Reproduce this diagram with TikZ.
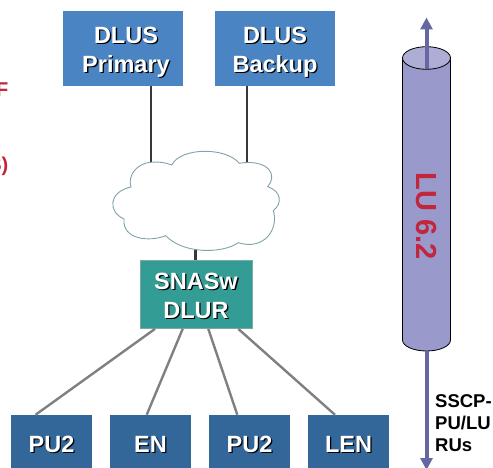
\documentclass[tikz,border=0pt]{standalone}
\usepackage{fontspec}
\setmainfont{Liberation Sans}
\usetikzlibrary{arrows.meta}
\definecolor{dlus}{HTML}{4A84C2}
\definecolor{sw}{HTML}{339C94}
\definecolor{pu}{HTML}{336699}
\definecolor{cyl}{HTML}{9999CC}
\definecolor{cyltop}{HTML}{ADADD6}
\definecolor{arr}{HTML}{6666A3}
\definecolor{redt}{HTML}{C0273D}
\definecolor{cloudc}{HTML}{7FA3A8}
\tikzset{
 x=1pt,y=-1pt,
 boxlabel/.style={font=\bfseries\fontsize{23.5}{28.8}\selectfont,align=center,text=white},
 boxshadow/.style={font=\bfseries\fontsize{23.5}{28.8}\selectfont,align=center,text=black},
 dlusbox/.style={fill=dlus,draw=none,minimum width=120pt,minimum height=75pt,inner sep=0pt},
 swbox/.style={fill=sw,draw=sw!70!black!60!white,line width=0.8pt,minimum width=112pt,minimum height=68pt,inner sep=0pt},
 pubox/.style={fill=pu,draw=none,minimum width=81pt,minimum height=53pt,inner sep=0pt},
 dark/.style={draw=black!78,line width=2.8pt},
 grey/.style={draw=black!50,line width=2.4pt},
 flow/.style={draw=arr,line width=4pt,-{Triangle[length=12pt,width=12pt]}},
 redfrag/.style={font=\bfseries\fontsize{20}{24}\selectfont,text=redt,anchor=east,inner sep=0pt},
}
\begin{document}
\begin{tikzpicture}
\useasboundingbox (0,0) rectangle (493,468);
\clip (0,0) rectangle (493,468);
\node[redfrag] (r1) at (8.5,90) {F};
\node[redfrag] (r2) at (8.5,166.5) {S)};

\node[dlusbox] (p) at (123,48.5) {};
\node[dlusbox] (b) at (275,48.5) {};
\node[swbox] (s) at (196,294.5) {};
\node[pubox] (u1) at (51.5,441.5) {};
\node[pubox] (u2) at (150.5,441.5) {};
\node[pubox] (u3) at (249.5,441.5) {};
\node[pubox] (u4) at (348.5,441.5) {};

\coordinate (c1) at (151,163);
\coordinate (c2) at (247,163);
\coordinate (c3) at (195.5,250);
\draw[dark] (p.south -| c1) -- (c1);
\draw[dark] (b.south -| c2) -- (c2);
\draw[dark] (c3) -- (s.north -| c3);

\draw[draw=cloudc,line width=0.9pt,fill=white]
 (150.7,162.3) .. controls (158,161.5) and (166,162.5) .. (171.7,165)
 .. controls (181,147) and (226,147) .. (239.3,163.3)
 .. controls (252,161) and (272,163) .. (271.7,178)
 .. controls (271.7,181) and (270,184) .. (267.7,186.7)
 .. controls (281,191) and (283,203) .. (273.3,210.7)
 .. controls (279,228) and (265,251) .. (238.3,242.7)
 .. controls (222,254) and (183,254) .. (165.7,235.7)
 .. controls (150,242) and (122,240) .. (124,219)
 .. controls (108,212) and (108,192) .. (131,187)
 .. controls (127,175) and (138,163) .. (150.7,162.3) -- cycle;

\draw[grey] ([xshift=-41pt]s.south) -- ([xshift=-16pt]u1.north);
\draw[grey] ([xshift=-13.3pt]s.south) -- ([xshift=-3.8pt]u2.north);
\draw[grey] ([xshift=12.3pt]s.south) -- ([xshift=-12.2pt]u3.north);
\draw[grey] ([xshift=42.3pt]s.south) -- ([xshift=-13.5pt]u4.north);

\foreach \n/\dx/\dy/\t in {p/3/3.5/DLUS\\Primary,b/0/3.5/DLUS\\Backup,s/0/1.5/SNASw\\DLUR,u1/0/2.5/PU2,u2/0/2.5/EN,u3/0/2.5/PU2,u4/0/2.5/LEN}{
 \node[boxshadow] at ([shift={(\dx+1.3,\dy+1.3)}]\n) {\t};
 \node[boxlabel] at ([shift={(\dx,\dy)}]\n) {\t};
}

% cylinder
\coordinate (cbot) at (426.5,351);
\coordinate (ftop) at (426.5,17.5);
\coordinate (fbot) at (426.5,470);
\draw[black,line width=0.8pt,fill=cyl] (402.5,58) -- (402.5,340) arc[start angle=180,end angle=360,x radius=24,y radius=-11] -- (450.5,58) -- cycle;
\draw[black,line width=0.8pt,fill=cyltop] (426.5,58) ellipse[x radius=24,y radius=11.3];
\draw[flow] (426.5,69.3) -- (ftop);
\draw[flow] (cbot) -- (fbot);
\node[rotate=-90,font=\bfseries\fontsize{29}{32}\selectfont,text=redt] (lu) at (426,216) {LU 6.2};
\node[font=\bfseries\fontsize{18.5}{21.7}\selectfont,align=left,anchor=west,inner sep=0pt] (ru) at (435,423) {SSCP-\\PU/LU\\RUs};
\end{tikzpicture}
\end{document}
